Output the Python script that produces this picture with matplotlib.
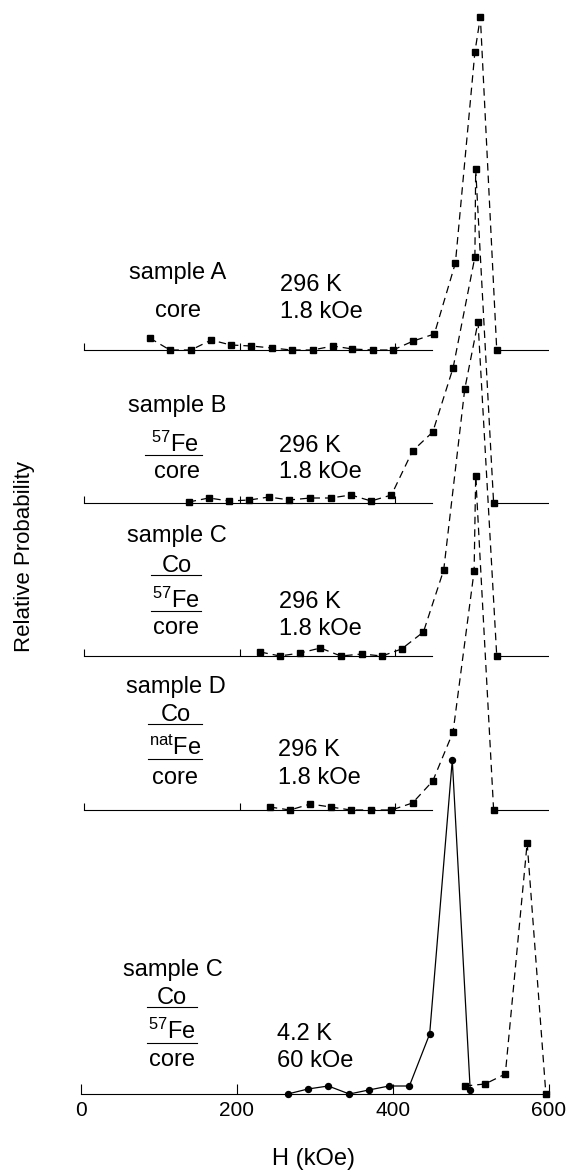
import matplotlib
matplotlib.use("Agg")
import matplotlib.pyplot as plt
from matplotlib.lines import Line2D

plt.rcParams['font.family'] = ['Liberation Sans', 'DejaVu Sans']
plt.rcParams['mathtext.fontset'] = 'custom'
plt.rcParams['mathtext.rm'] = 'Liberation Sans'
plt.rcParams['mathtext.it'] = 'Liberation Sans'

# hyperfine field distributions, H in kOe, P in arbitrary units
h_a = [88, 114, 141, 167, 192, 218, 245, 270, 297, 323, 348, 374, 400, 426, 453, 480, 505, 512, 533]
p_a = [1.2, 0, 0, 1.0, 0.5, 0.4, 0.2, 0, 0, 0.4, 0.1, 0, 0, 0.9, 1.6, 8.7, 29.8, 33.3, 0]
h_b = [138, 164, 190, 216, 241, 267, 294, 320, 346, 372, 398, 425, 451, 477, 505, 506, 529]
p_b = [0.1, 0.5, 0.2, 0.3, 0.6, 0.3, 0.5, 0.5, 0.8, 0.2, 0.8, 5.2, 7.1, 13.5, 24.6, 33.4, 0]
h_c = [230, 255, 281, 307, 333, 360, 386, 411, 439, 465, 492, 509, 533]
p_c = [0.4, 0, 0.3, 0.8, 0, 0.2, 0, 0.7, 2.4, 8.6, 26.7, 33.4, 0]
h_d = [242, 268, 294, 320, 346, 372, 398, 425, 451, 477, 504, 506, 529]
p_d = [0.3, 0, 0.6, 0.3, 0, 0, 0, 0.7, 2.9, 7.8, 23.9, 33.4, 0]
# sample C at 4.2 K, 60 kOe: solid and dashed components
h_low = [265, 291, 317, 344, 369, 395, 421, 447, 476, 499]
p_low = [0, 0.5, 0.8, 0, 0.4, 0.8, 0.8, 6.0, 33.4, 0.4]
h_low2 = [492, 518, 544, 572, 596]
p_low2 = [0.8, 1.0, 2.0, 25.1, 0]

x_ticks = [0, 200, 400, 600]
x_ticklabels = ['0', '200', '400', '600']

W, H = 566, 1171
fig = plt.figure(figsize=(W / 100, H / 100), dpi=100)
ax = fig.add_axes([81 / W, 1 - 1094 / H, 468 / W, 1094 / H])
ax.set_xlim(0, 600)
ax.set_ylim(0, 109.4)

dash = (0, (6, 4))
lw = 0.9

# stacked upper panels: offset, H, P
panels = [(74.4, h_a, p_a), (59.1, h_b, p_b), (43.8, h_c, p_c), (28.4, h_d, p_d)]
for off, hh, pp in panels:
    ax.plot([4, 450], [off, off], color='k', lw=0.8)
    ax.plot([hh[-1], 604], [off, off], color='k', lw=0.8)
    ax.vlines([4, 204, 402, 604], off, off + 0.7, color='k', lw=0.8)
    ax.plot(hh, [off + p for p in pp], color='k', lw=lw, ls=dash,
            marker='s', ms=3.8, clip_on=False)

ax.plot(h_low, p_low, color='k', lw=lw, marker='o', ms=4.3, clip_on=False)
ax.plot(h_low2, p_low2, color='k', lw=lw, ls=dash, marker='s', ms=3.8, clip_on=False)

for s in ['top', 'right', 'left']:
    ax.spines[s].set_visible(False)
ax.spines['bottom'].set_linewidth(0.8)
ax.set_yticks([])
ax.set_xticks(x_ticks)
ax.set_xticklabels(x_ticklabels, fontsize=15)
ax.tick_params(axis='x', direction='in', length=7, width=0.8, pad=5)


def put(x, y, s, ha='center'):
    fig.text(x / W, 1 - y / H, s, fontsize=17, ha=ha, va='baseline')


def uline(x0, x1, y):
    fig.add_artist(Line2D([x0 / W, x1 / W], [1 - y / H, 1 - y / H], color='k', lw=0.8))


# sample A
put(178, 279, 'sample A')
put(178, 317, 'core')
put(280, 291, '296 K', 'left')
put(280, 318, '1.8 kOe', 'left')
# sample B
put(177, 412, 'sample B')
put(175, 452, r'$^{\mathrm{57}}$Fe')
uline(145, 202, 455)
put(177, 478, 'core')
put(279, 452, '296 K', 'left')
put(279, 478, '1.8 kOe', 'left')
# sample C
put(177, 542, 'sample C')
put(177, 572, 'Co')
uline(151, 201, 575)
put(176, 608, r'$^{\mathrm{57}}$Fe')
uline(151, 201, 611)
put(176, 634, 'core')
put(279, 608, '296 K', 'left')
put(279, 635, '1.8 kOe', 'left')
# sample D
put(176, 693, 'sample D')
put(176, 721, 'Co')
uline(148, 202, 724)
put(175, 755, r'$^{\mathrm{nat}}$Fe')
uline(148, 202, 759)
put(175, 784, 'core')
put(278, 756, '296 K', 'left')
put(278, 784, '1.8 kOe', 'left')
# sample C at 4.2 K
put(173, 976, 'sample C')
put(172, 1004, 'Co')
uline(147, 197, 1007)
put(172, 1039, r'$^{\mathrm{57}}$Fe')
uline(147, 197, 1043)
put(172, 1066, 'core')
put(277, 1040, '4.2 K', 'left')
put(277, 1067, '60 kOe', 'left')

fig.text(313 / W, 1 - 1159 / H, 'H (kOe)', fontsize=17, ha='center', va='center')
fig.text(25 / W, 1 - 557 / H, 'Relative Probability', fontsize=16,
         rotation=90, ha='center', va='center')

fig.savefig('out.png', dpi=100)
